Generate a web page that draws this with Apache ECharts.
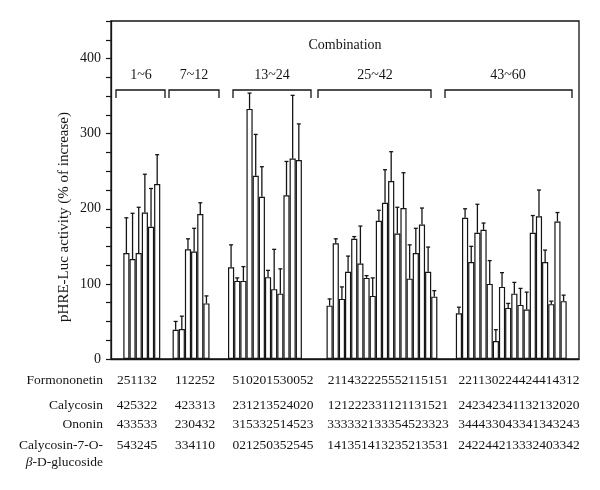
<!DOCTYPE html>
<html><head><meta charset="utf-8">
<script src="https://cdn.jsdelivr.net/npm/echarts@6/dist/echarts.min.js"></script>
<style>html,body{margin:0;padding:0;background:#fff}#c{width:600px;height:490px}</style>
</head><body><div id="c"></div>
<script>
// ---- data ----
const groupNames = ['1~6', '7~12', '13~24', '25~42', '43~60'];
const mean1 = [141, 133, 141, 195, 176, 233];
const upper1 = [188, 194, 202, 246, 227, 272];
const mean2 = [39, 40, 146, 143, 193, 74];
const upper2 = [50, 57, 160, 174, 208, 84];
const mean3 = [122, 104, 104, 333, 244, 216, 109, 93, 87, 218, 267, 265];
const upper3 = [152, 108, 123, 354, 299, 256, 118, 146, 120, 263, 351, 313];
const mean4 = [71, 154, 80, 116, 160, 127, 108, 84, 184, 208, 237, 167, 201, 107, 141, 179, 116, 83];
const upper4 = [80, 160, 96, 137, 163, 177, 111, 108, 198, 252, 276, 202, 248, 152, 174, 201, 149, 91];
const mean5 = [61, 188, 129, 168, 172, 100, 24, 96, 68, 87, 72, 66, 168, 190, 129, 73, 183, 77];
const upper5 = [69, 200, 150, 206, 181, 131, 39, 115, 74, 102, 94, 89, 191, 225, 145, 77, 195, 85];
const rowNames = ['Formononetin', 'Calycosin', 'Ononin', 'Calycosin-7-O-'];
const formononetin = ['251132', '112252', '510201530052', '211432225552115151', '221130224424414312'];
const calycosin = ['425322', '423313', '231213524020', '121222331121131521', '242342341132132020'];
const ononin = ['433533', '230432', '315332514523', '333332133354523323', '344433043341343243'];
const glucoside = ['543245', '334110', '021250352545', '141351413235213531', '242244213332403342'];
const yTicks = [0, 100, 200, 300, 400];

// ---- layout (not data) ----
const gaps = [2, 2, 3, 4, 3, 2];
const means = [mean1, mean2, mean3, mean4, mean5];
const uppers = [upper1, upper2, upper3, upper4, upper5];
const categories = [], barData = [], errData = [];
let idx = 0, n = 1;
function pushBlank(k) { for (let i = 0; i < k; i++) { categories.push('b' + idx); barData.push('-'); idx++; } }
for (let g = 0; g < 5; g++) {
  pushBlank(gaps[g]);
  means[g].forEach((v, i) => {
    categories.push(String(n++));
    barData.push(v);
    errData.push([idx, v, uppers[g][i]]);
    idx++;
  });
}
pushBlank(gaps[5]);

const serif = '"Liberation Serif", "DejaVu Serif", serif';
const ink = '#151515';
const textCenters = [137, 195, 273, 388, 519];
const rowY = [380, 405, 424, 445];
const bracketX = [[116, 165], [169, 219], [233, 311], [318, 431], [445, 572]];
const labelX = [141, 194, 272, 375, 508];

const graphics = [];
bracketX.forEach((b, i) => {
  graphics.push({ type: 'polyline', shape: { points: [[b[0], 98], [b[0], 90], [b[1], 90], [b[1], 98]] },
    style: { stroke: ink, lineWidth: 1.3, fill: null } });
  graphics.push({ type: 'text', x: labelX[i], y: 75, style: { text: groupNames[i], font: '14px ' + serif, fill: ink, textAlign: 'center', textVerticalAlign: 'middle' } });
});
graphics.push({ type: 'text', x: 345, y: 45, style: { text: 'Combination', font: '14px ' + serif, fill: ink, textAlign: 'center', textVerticalAlign: 'middle' } });
graphics.push({ type: 'text', x: 64, y: 217, rotation: Math.PI / 2, style: { text: 'pHRE-Luc activity (% of increase)', font: '15px ' + serif, fill: ink, textAlign: 'center', textVerticalAlign: 'middle' } });
[formononetin, calycosin, ononin, glucoside].forEach((row, r) => {
  graphics.push({ type: 'text', x: 103, y: rowY[r], style: { text: rowNames[r], font: '13.5px ' + serif, fill: ink, textAlign: 'right', textVerticalAlign: 'middle' } });
  row.forEach((s, g) => {
    graphics.push({ type: 'text', x: textCenters[g], y: rowY[r], style: { text: s, font: '13.5px ' + serif, fill: ink, textAlign: 'center', textVerticalAlign: 'middle' } });
  });
});
graphics.push({ type: 'text', x: 103, y: 462, style: { text: '{i|β}-D-glucoside', font: '13.5px ' + serif, fill: ink, textAlign: 'right', textVerticalAlign: 'middle',
  rich: { i: { fontStyle: 'italic', fontFamily: serif, fontSize: 13.5, fill: ink } } } });

const chart = echarts.init(document.getElementById('c'), null, { renderer: 'canvas' });
chart.setOption({
  animation: false,
  backgroundColor: '#fff',
  grid: { left: 111, right: 21, top: 21, bottom: 131, show: true, borderColor: ink, borderWidth: 1.3, backgroundColor: 'transparent' },
  xAxis: {
    type: 'category', data: categories, boundaryGap: true,
    axisLine: { lineStyle: { color: ink, width: 1.3 } },
    axisTick: { show: false }, axisLabel: { show: false }, splitLine: { show: false }
  },
  yAxis: {
    type: 'value', min: 0, max: 450, interval: 25,
    axisLine: { show: true, lineStyle: { color: ink, width: 1.3 } },
    axisTick: { show: true, inside: false, length: 5, lineStyle: { color: ink, width: 1.2 } },
    axisLabel: { margin: 10, color: ink, fontFamily: serif, fontSize: 14,
      formatter: v => (yTicks.indexOf(v) >= 0 ? String(v) : '') },
    splitLine: { show: false }
  },
  series: [
    { type: 'bar', data: barData, barCategoryGap: '0%', barWidth: '100%',
      itemStyle: { color: '#fff', borderColor: ink, borderWidth: 1.2 } },
    { type: 'custom', data: errData, z: 5,
      renderItem: function (params, api) {
        const x = api.value(0);
        const lo = api.coord([x, api.value(1)]);
        const hi = api.coord([x, api.value(2)]);
        const cap = 2;
        return { type: 'group', children: [
          { type: 'line', shape: { x1: lo[0], y1: lo[1], x2: hi[0], y2: hi[1] }, style: { stroke: ink, lineWidth: 1.3 } },
          { type: 'line', shape: { x1: hi[0] - cap, y1: hi[1], x2: hi[0] + cap, y2: hi[1] }, style: { stroke: ink, lineWidth: 1.3 } }
        ] };
      } }
  ],
  graphic: graphics
});
</script></body></html>
